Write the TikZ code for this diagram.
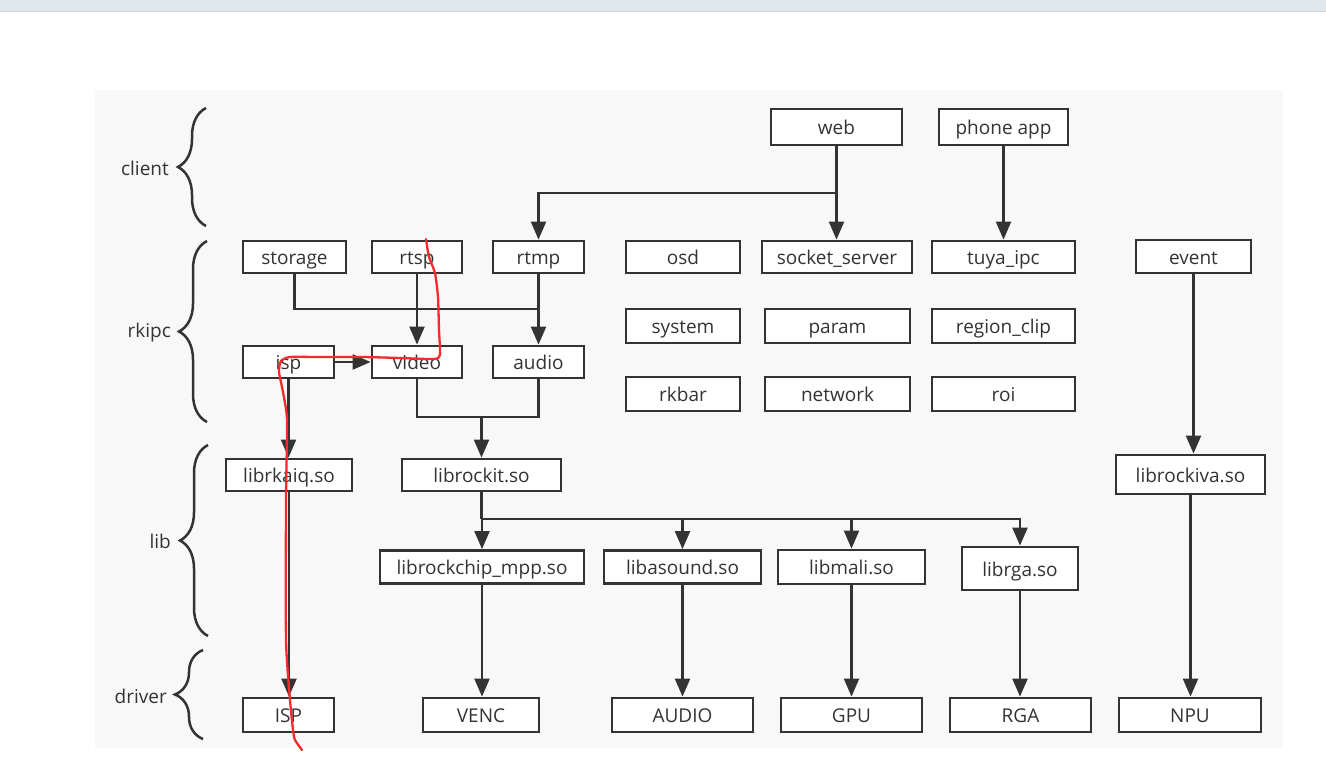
\documentclass[tikz,border=0pt]{standalone}
\usepackage{fontspec}
\setmainfont{Open Sans}
\usepackage{tikz}
\usetikzlibrary{
	arrows.meta,
	decorations.pathreplacing
}
\definecolor{ink}{HTML}{333333}
\definecolor{canvas}{HTML}{F8F8F8}
\definecolor{topbar}{HTML}{E1E5EC}
\definecolor{topline}{HTML}{CDD1D8}
\definecolor{pen}{HTML}{F52A2A}
\tikzset{
	box/.style={
		draw=ink, line width=2.8pt, fill=white, text=ink,
		inner sep=0pt, minimum height=32pt,
		text height=18pt, text depth=3pt,
		font=\fontsize{19}{22}\selectfont
	},
	link/.style={
		draw=ink, line width=2.2pt
	},
	every edge/.append style={
		link, -{Triangle[length=18pt,width=15pt]}
	},
	layer/.style={
		draw=ink, line width=2.5pt, decorate,
		decoration={brace, amplitude=28pt}
	},
	layer label/.style={
		text=ink, anchor=east, inner sep=0pt,
		font=\fontsize{19}{22}\selectfont
	}
}

\begin{document}
\begin{tikzpicture}[x=1pt,y=-1pt]
	\useasboundingbox (0,0) rectangle (1326,781);
	\fill[topbar] (0,0) rectangle (1326,12);
	\draw[topline, line width=1pt] (0,12) -- (1326,12);
	\fill[canvas] (95,90) rectangle (1283,748);

	% layers
	\draw[layer] (206,226) -- (206,108);
	\draw[layer] (207,422) -- (207,241);
	\draw[layer] (208,636) -- (208,445);
	\draw[layer] (203,739) -- (203,650);
	\node[layer label] (lclient) at (169,168) {client};
	\node[layer label] (lrkipc)  at (171,333) {rkipc};
	\node[layer label] (llib)    at (171,541) {lib};
	\node[layer label] (ldriver) at (167,696) {driver};

	% client + rkipc
	\draw
		node [box,minimum width=131pt,minimum height=36pt] (web)   at (836.5,127)  {web}
		node [box,minimum width=129pt,minimum height=36pt] (phone) at (1003.5,127) {phone app}

		node [box,minimum width=103pt] (storage) at (294.5,257)  {storage}
		node [box,minimum width=90pt]  (rtsp)    at (417,257)    {rtsp}
		node [box,minimum width=91pt]  (rtmp)    at (538.5,257)  {rtmp}
		node [box,minimum width=114pt] (osd)     at (683,257)    {osd}
		node [box,minimum width=150pt] (sock)    at (837,257)    {socket\_server}
		node [box,minimum width=143pt] (tuya)    at (1003.5,257) {tuya\_ipc}
		node [box,minimum width=115pt,minimum height=33pt] (event) at (1193.5,256.5) {event}

		node [box,minimum width=114pt,minimum height=34pt] (system) at (683,326)    {system}
		node [box,minimum width=145pt,minimum height=34pt] (param)  at (837.5,326)  {param}
		node [box,minimum width=143pt,minimum height=34pt] (region) at (1003.5,326) {region\_clip}

		node [box,minimum width=91pt]  (isp)   at (288.5,362) {isp}
		node [box,minimum width=90pt]  (video) at (417,362)   {video}
		node [box,minimum width=91pt]  (audio) at (538.5,362) {audio}

		node [box,minimum width=114pt,minimum height=34pt] (rkbar)   at (683,394)    {rkbar}
		node [box,minimum width=145pt,minimum height=34pt] (network) at (837.5,394)  {network}
		node [box,minimum width=143pt,minimum height=34pt] (roi)     at (1003.5,394) {roi}
	;

	% lib + driver
	\draw
		node [box,minimum width=126pt] (rkaiq)  at (289,475)    {librkaiq.so}
		node [box,minimum width=159pt] (rockit) at (481.5,475)  {librockit.so}
		node [box,minimum width=149pt,minimum height=39pt] (rockiva) at (1190.5,474.5) {librockiva.so}

		node [box,minimum width=204pt,minimum height=33pt] (mpp)    at (482,567)    {librockchip\_mpp.so}
		node [box,minimum width=157pt,minimum height=33pt] (asound) at (682.5,567)  {libasound.so}
		node [box,minimum width=147pt,minimum height=34pt] (mali)   at (851.5,567)  {libmali.so}
		node [box,minimum width=116pt,minimum height=43pt] (rga)    at (1020,568.5) {librga.so}

		node [box,minimum width=91pt,minimum height=34pt]  (dISP)   at (288.5,715)  {ISP}
		node [box,minimum width=116pt,minimum height=34pt] (dVENC)  at (481,715)    {VENC}
		node [box,minimum width=141pt,minimum height=34pt] (dAUDIO) at (682.5,715)  {AUDIO}
		node [box,minimum width=141pt,minimum height=34pt] (dGPU)   at (851.5,715)  {GPU}
		node [box,minimum width=141pt,minimum height=34pt] (dRGA)   at (1020.5,715) {RGA}
		node [box,minimum width=142pt,minimum height=34pt] (dNPU)   at (1190,715)   {NPU}
	;

	\coordinate (wj) at (837,193);
	\coordinate (sj) at (538.5,309);
	\coordinate (vj) at (481.5,417);
	\coordinate (kj) at (481.5,519);

	% joins
	\draw[link] (storage.south) |- (sj);
	\draw[link] (video.south) |- (vj) -| (audio.south);
	\draw[link] (rockit.south) -- (kj);
	\draw[link,-{Triangle[length=18pt,width=15pt]}] (wj) -| (rtmp.north);
	\draw[link,-{Triangle[length=18pt,width=15pt]}] (kj) -| (rga.north);

	% arrows
	\draw
		(isp.east) edge (video.west)
		(vj) edge (rockit.north)
		(mpp.north |- kj) edge (mpp.north)
		(asound.north |- kj) edge (asound.north)
		(mali.north |- kj) edge (mali.north)
		\foreach \a/\b in {web/sock,phone/tuya,rtsp/video,rtmp/audio,event/rockiva,
			isp/rkaiq,rkaiq/dISP,mpp/dVENC,asound/dAUDIO,mali/dGPU,rga/dRGA,rockiva/dNPU} {
			(\a.south) edge (\a.south |- \b.north)
		}
	;

	% red mark
	\draw[pen, line width=2.3pt, line cap=round, line join=round]
		plot[smooth, tension=0.35] coordinates {
			(426,239) (429,257) (435,273) (438,297) (439,330) (440,355)
			(434,359) (400,358) (363,357) (320,357) (290,357) (281,361)
			(279,372) (283,392) (287,420) (286,500) (286,640) (290,700)
			(293,730) (295,740) (302,750)
		};
\end{tikzpicture}
\end{document}
